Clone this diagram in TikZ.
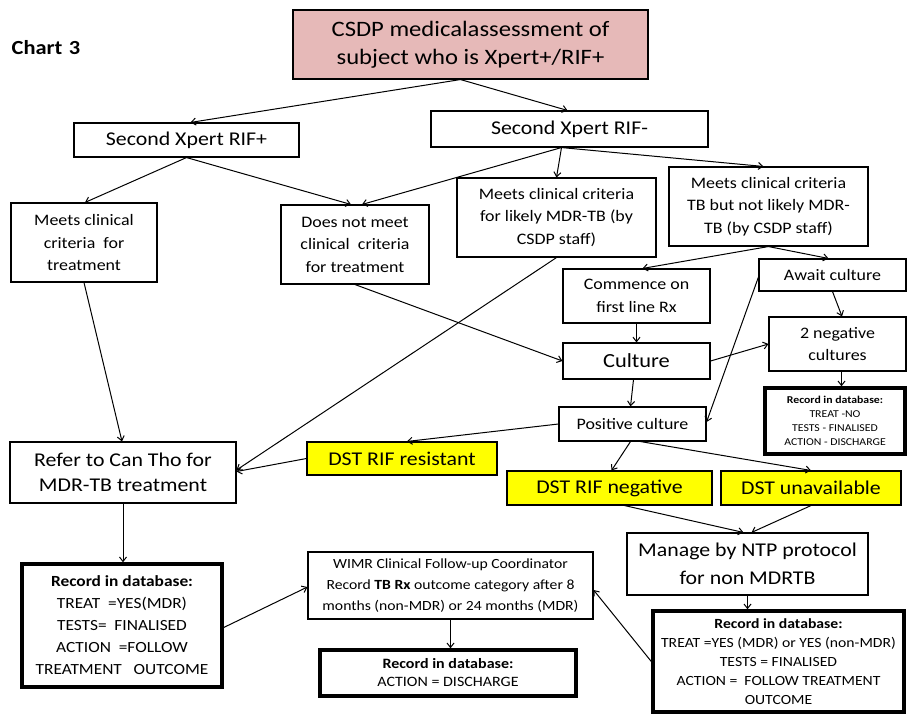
\documentclass[tikz,border=0pt]{standalone}
\usepackage{fontspec}
\setmainfont{Carlito}[FakeStretch=1.12]
\usetikzlibrary{arrows.meta,calc}

\definecolor{pinkfill}{RGB}{230,185,184}
\definecolor{yellowfill}{RGB}{255,255,0}

\tikzset{
  base/.style={draw=black, line width=1.1pt, align=center, inner sep=0pt, text=black},
  thickbox/.style={base, line width=3.4pt},
  dstbox/.style={base, fill=yellowfill, font=\fontsize{19.5}{24}\selectfont},
  arr/.style={line width=1pt, -{Straight Barb[length=4.5pt,width=7pt]}},
  fsmall/.style={font=\fontsize{16}{22.5}\selectfont},
}

\begin{document}
\begin{tikzpicture}[x=1pt, y=-1pt]
\useasboundingbox (0,0) rectangle (909,715);

% title
\node[font=\fontsize{20}{24}\selectfont\bfseries, text=black] (chart) at (46,48) {Chart\,\,3};

% top level
\node[base, fill=pinkfill, minimum width=355pt, minimum height=69pt,
      font=\fontsize{22}{28}\selectfont] (top) at (470.5,44.5)
  {CSDP medicalassessment of\\subject who is Xpert+/RIF+};

\node[base, minimum width=225pt, minimum height=34pt, font=\fontsize{19.5}{24}\selectfont]
  (rifp) at (186.5,140) {Second Xpert RIF+};
\node[base, minimum width=277pt, minimum height=36pt, font=\fontsize{19.5}{24}\selectfont]
  (rifm) at (569.5,129) {Second Xpert RIF-};

% clinical criteria
\node[base, fsmall, minimum width=146pt, minimum height=79pt] (meets) at (84,242.5)
  {Meets clinical\\criteria\ \ for\\treatment};
\node[base, fsmall, minimum width=148pt, minimum height=79pt] (notmeet) at (355,244.5)
  {Does not meet\\clinical\ \ criteria\\for treatment};
\node[base, fsmall, minimum width=199pt, minimum height=79pt] (mdr) at (556.5,217.5)
  {Meets clinical criteria\\for likely MDR-TB (by\\CSDP staff)};
\node[base, fsmall, minimum width=199pt, minimum height=79pt] (notmdr) at (768.5,206.5)
  {Meets clinical criteria\\TB but not likely MDR-\\TB (by CSDP staff)};

% culture pathway
\node[base, fsmall, minimum width=147pt, minimum height=54pt] (commence) at (636.5,296)
  {Commence on\\first line Rx};
\node[base, minimum width=147pt, minimum height=36pt, font=\fontsize{20}{24}\selectfont]
  (culture) at (636.5,361) {Culture};
\node[base, fsmall, minimum width=147pt, minimum height=34pt] (poscult) at (632.5,424)
  {Positive culture};
\node[base, fsmall, minimum width=147pt, minimum height=32pt] (await) at (832.5,275)
  {Await culture};
\node[base, fsmall, minimum width=137pt, minimum height=54pt] (neg2) at (837.5,344)
  {2 negative\\cultures};
\node[thickbox, minimum width=140pt, minimum height=66pt, font=\fontsize{10.5}{14}\selectfont]
  (recno) at (835,421)
  {\textbf{Record in database:}\\TREAT -NO\\TESTS - FINALISED\\ACTION - DISCHARGE};

% drug susceptibility results
\node[dstbox, minimum width=190pt, minimum height=33pt] (dstres) at (402,458.5) {DST RIF resistant};
\node[dstbox, minimum width=205pt, minimum height=34pt] (dstneg) at (609.5,488) {DST RIF negative};
\node[dstbox, minimum width=180pt, minimum height=34pt] (dstun) at (811,488) {DST unavailable};

% outcomes
\node[base, minimum width=226pt, minimum height=61pt, font=\fontsize{19.5}{25}\selectfont]
  (refer) at (123,472.5) {Refer to Can Tho for\\MDR-TB treatment};
\node[thickbox, minimum width=200pt, minimum height=123pt, font=\fontsize{15.5}{22}\selectfont]
  (rec1) at (122,625.5)
  {\textbf{Record in database:}\\TREAT\ \ =YES(MDR)\\TESTS=\ \ FINALISED\\ACTION\ \ =FOLLOW\\TREATMENT\ \ \ OUTCOME};
\node[base, minimum width=285pt, minimum height=67pt, font=\fontsize{14}{21}\selectfont]
  (wimr) at (450.5,585.5)
  {WIMR Clinical Follow-up Coordinator\\Record \textbf{TB Rx} outcome category after 8\\months (non-MDR) or 24 months (MDR)};
\node[thickbox, minimum width=256pt, minimum height=46pt, font=\fontsize{14.3}{18}\selectfont]
  (recdis) at (448,673) {\textbf{Record in database:}\\ACTION = DISCHARGE};
\node[base, minimum width=241pt, minimum height=62pt, font=\fontsize{19.5}{28}\selectfont]
  (manage) at (747.5,564) {Manage by NTP protocol\\for non MDRTB};
\node[thickbox, minimum width=251pt, minimum height=101pt, font=\fontsize{14}{19}\selectfont]
  (rec3) at (778.5,661.5)
  {\textbf{Record in database:}\\TREAT =YES (MDR) or YES (non-MDR)\\TESTS = FINALISED\\ACTION =\ \ FOLLOW TREATMENT\\OUTCOME};

% connectors
\draw[arr] ([xshift=-10pt]top.south) -- ([xshift=4pt]rifp.north);
\draw[arr] ([xshift=-10pt]top.south) -- ([xshift=-2pt]rifm.north);

\draw[arr] (rifp.south) -- ([xshift=1pt]meets.north);
\draw[arr] (rifp.south) -- ([xshift=-4pt]notmeet.north);

\draw[arr] ([xshift=-8pt]rifm.south) -- ([xshift=7pt]notmeet.north);
\draw[arr] ([xshift=-8pt]rifm.south) -- (mdr.north);
\draw[arr] ([xshift=-8pt]rifm.south) -- ([xshift=-5pt]notmdr.north);

\draw[arr] (notmdr.south) -- ([xshift=6pt]commence.north);
\draw[arr] (notmdr.south) -- ([xshift=-4pt]await.north);

\draw[arr] (mdr.south) -- ([yshift=2.5pt]refer.east);
\draw[arr] (dstres.west) -- ([yshift=1pt]refer.east);
\draw[arr] (meets.south) -- ([xshift=-1pt]refer.north);

\draw[arr] (notmeet.south) -- (culture.west);
\draw[arr] (commence.south) -- (culture.north);
\draw[arr] ([xshift=-3pt]culture.south) -- ([xshift=-2pt]poscult.north);
\draw[arr] (culture.east) -- (neg2.west);
\draw[arr] (await.south) -- ([xshift=4.5pt]neg2.north);
\draw[arr] ([xshift=4pt]neg2.south) -- ([xshift=4pt]neg2.south |- recno.north);
\draw[arr] ([yshift=-2pt]await.west) -- ([yshift=2pt]poscult.east);

\draw[arr] (poscult.west) -- ([xshift=5pt]dstres.north);
\draw[arr] ([xshift=-2pt]poscult.south) -- ([xshift=2pt]dstneg.north);
\draw[arr] ([xshift=8pt]poscult.south) -- (dstun.north);

\draw[arr] ([xshift=15pt]dstneg.south) -- ([xshift=-4pt]manage.north);
\draw[arr] (dstun.south) -- ([xshift=4pt]manage.north);
\draw[arr] (manage.south) -- (manage.south |- rec3.north);

\draw[arr] (refer.south) -- (refer.south |- rec1.north);
\draw[arr] ([yshift=-2pt]rec1.east) -- ([yshift=-1.5pt]wimr.west);
\draw[arr] (rec3.west) -- ([yshift=-4.5pt]wimr.east);
\draw[arr] (wimr.south) -- (wimr.south |- recdis.north);

\end{tikzpicture}
\end{document}
